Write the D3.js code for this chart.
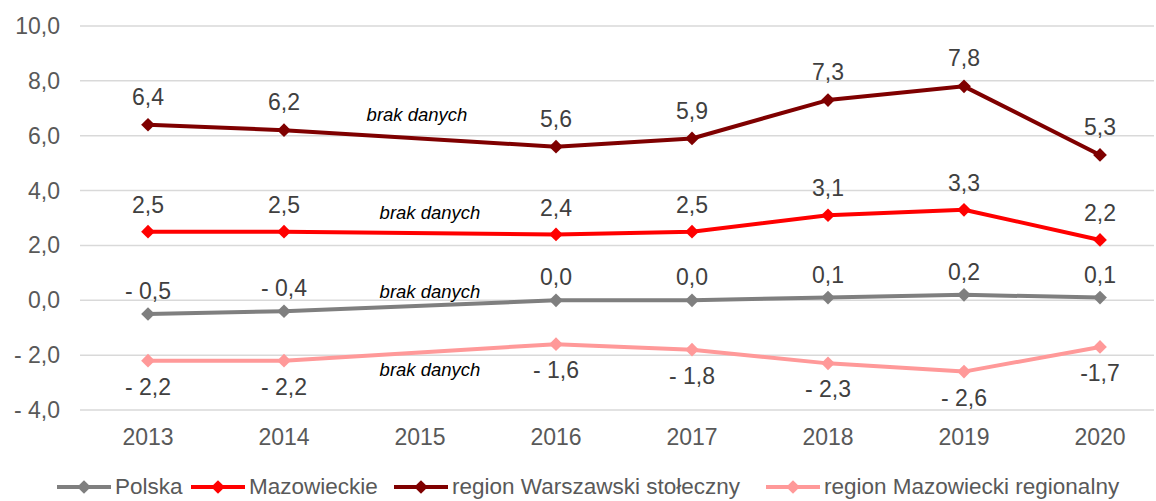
<!DOCTYPE html>
<html>
<head>
<meta charset="utf-8">
<script src="https://cdn.jsdelivr.net/npm/d3@7"></script>
<style>
  body { margin: 0; background: #fff; }
  text { font-family: "Liberation Sans", Arial, sans-serif; fill: #595959; }
</style>
</head>
<body>
<svg width="1156" height="501"></svg>
<script>
const years = ['2013', '2014', '2015', '2016', '2017', '2018', '2019', '2020'];
const yTicks = [-4, -2, 0, 2, 4, 6, 8, 10];

// 2015 = brak danych
const polska = [-0.5, -0.4, null, 0.0, 0.0, 0.1, 0.2, 0.1];
const mazowieckie = [2.5, 2.5, null, 2.4, 2.5, 3.1, 3.3, 2.2];
const warszawski = [6.4, 6.2, null, 5.6, 5.9, 7.3, 7.8, 5.3];
const regionalny = [-2.2, -2.2, null, -1.6, -1.8, -2.3, -2.6, -1.7];

const polskaLabels = ['- 0,5', '- 0,4', null, '0,0', '0,0', '0,1', '0,2', '0,1'];
const mazowieckieLabels = ['2,5', '2,5', null, '2,4', '2,5', '3,1', '3,3', '2,2'];
const warszawskiLabels = ['6,4', '6,2', null, '5,6', '5,9', '7,3', '7,8', '5,3'];
const regionalnyLabels = ['- 2,2', '- 2,2', null, '- 1,6', '- 1,8', '- 2,3', '- 2,6', '-1,7'];

const seriesNames = ['Polska', 'Mazowieckie', 'region Warszawski stołeczny', 'region Mazowiecki regionalny'];
const seriesColors = ['#7f7f7f', '#ff0000', '#7f0000', '#ff9999'];

const series = [
  { name: seriesNames[0], color: seriesColors[0], values: polska, labels: polskaLabels, offset: -23 },
  { name: seriesNames[1], color: seriesColors[1], values: mazowieckie, labels: mazowieckieLabels, offset: -27 },
  { name: seriesNames[2], color: seriesColors[2], values: warszawski, labels: warszawskiLabels, offset: -28 },
  { name: seriesNames[3], color: seriesColors[3], values: regionalny, labels: regionalnyLabels, offset: 26 }
];

const svg = d3.select('svg');

const x = d3.scaleBand().domain(years).range([80, 1168]);
const y = d3.scaleLinear().domain([-4, 10]).range([410, 26]);
const xc = d => x(d) + x.bandwidth() / 2;

// gridlines
svg.append('g').selectAll('line').data(yTicks)
  .enter().append('line')
  .attr('x1', 80).attr('x2', 1154)
  .attr('y1', d => y(d)).attr('y2', d => y(d))
  .attr('stroke', '#d9d9d9').attr('stroke-width', 1.5);

const fmt = d => (d < 0 ? '- ' : '') + d3.format('.1f')(Math.abs(d)).replace('.', ',');

svg.append('g').selectAll('text').data(yTicks)
  .enter().append('text')
  .attr('x', 60).attr('y', d => y(d))
  .attr('dy', '0.35em')
  .attr('text-anchor', 'end')
  .style('font-size', '23px')
  .text(fmt);

svg.append('g').selectAll('text').data(years)
  .enter().append('text')
  .attr('x', xc).attr('y', 437)
  .attr('dy', '0.35em')
  .attr('text-anchor', 'middle')
  .style('font-size', '23px')
  .text(d => d);

const diamond = d3.symbol().type(d3.symbolDiamond2).size(120);

const line = d3.line()
  .defined(d => d.v !== null)
  .x(d => xc(d.year))
  .y(d => y(d.v));

series.forEach(s => {
  const pts = years.map((year, i) => ({ year, v: s.values[i], label: s.labels[i] }));
  const valid = pts.filter(d => d.v !== null);
  const g = svg.append('g');

  g.append('path')
    .attr('d', line(valid))
    .attr('fill', 'none')
    .attr('stroke', s.color)
    .attr('stroke-width', 4)
    .attr('stroke-linejoin', 'round');

  g.selectAll('path.m').data(valid)
    .enter().append('path')
    .attr('class', 'm')
    .attr('transform', d => `translate(${xc(d.year)},${y(d.v)})`)
    .attr('d', diamond)
    .attr('fill', s.color);

  g.selectAll('text').data(valid)
    .enter().append('text')
    .attr('x', d => xc(d.year))
    .attr('y', d => y(d.v) + s.offset)
    .attr('dy', '0.35em')
    .attr('text-anchor', 'middle')
    .style('font-size', '23px')
    .style('fill', '#404040')
    .text(d => d.label);
});

// brak danych
const brakX = [417, 430, 430, 430];
const brakY = [115, 213, 292, 370];
svg.append('g').selectAll('text').data(brakX)
  .enter().append('text')
  .attr('x', d => d)
  .attr('y', (d, i) => brakY[i])
  .attr('dy', '0.35em')
  .attr('text-anchor', 'middle')
  .style('font-size', '18.5px')
  .style('font-style', 'italic')
  .style('fill', '#000')
  .text('brak danych');

// legend
const legendX = [57, 191, 394, 766];
const legend = svg.append('g').selectAll('g').data(series)
  .enter().append('g')
  .attr('transform', (d, i) => `translate(${legendX[i]},487)`);

legend.append('line')
  .attr('x1', 0).attr('x2', 54)
  .attr('stroke', d => d.color).attr('stroke-width', 4);

legend.append('path')
  .attr('transform', 'translate(27,0)')
  .attr('d', diamond)
  .attr('fill', d => d.color);

legend.append('text')
  .attr('x', 58)
  .attr('dy', '0.33em')
  .style('font-size', '22.5px')
  .text(d => d.name);
</script>
</body>
</html>
